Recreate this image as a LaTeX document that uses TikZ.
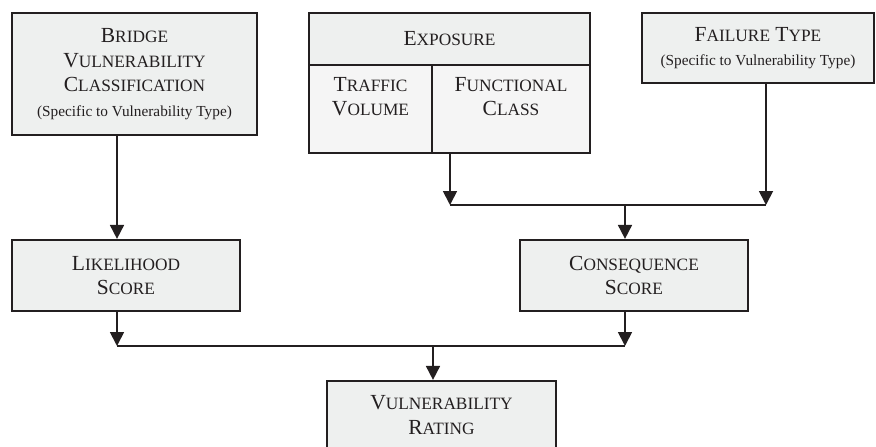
\documentclass[tikz,border=0pt]{standalone}
\usepackage{fontspec}
\setmainfont{Liberation Serif}
\usetikzlibrary{arrows.meta}

\definecolor{boxgray}{RGB}{238,240,239}
\definecolor{cellgray}{RGB}{245,245,245}
\definecolor{ink}{RGB}{35,31,32}

% small capitals by hand: first letter at full size, rest smaller
\newcommand{\capsm}[1]{{\fontsize{17.3}{24.5}\selectfont\MakeUppercase{#1}}}
\newcommand{\paren}[1]{{\fontsize{15.3}{21}\selectfont #1}}

\begin{document}
\begin{tikzpicture}[x=1pt, y=-1pt,
    every node/.style={font=\fontsize{21.5}{24.5}\selectfont, text=ink},
    box/.style={draw=ink, line width=2.2pt, fill=boxgray, align=center, inner sep=0pt},
    cell/.style={box, fill=cellgray},
    flow/.style={draw=ink, line width=1.8pt},
    arr/.style={flow, -{Triangle[length=14pt,width=14pt]}}]
  \useasboundingbox (0,0) rectangle (876,447);

  % top row
  \node[box, minimum width=245, minimum height=122] (bridge) at (134.5,74)
    {B\capsm{ridge}\\ V\capsm{ulnerability}\\ C\capsm{lassification}\\
     \paren{(Specific to Vulnerability Type)}};

  \node[box, minimum width=281, minimum height=52] (expo) at (449.5,39)
    {E\capsm{xposure}};
  \node[cell, minimum width=123, minimum height=88] (traffic) at (370.5,109) {};
  \node[cell, minimum width=158, minimum height=88] (func) at (511,109) {};
  \node[anchor=north, align=center, inner sep=0pt] (trafficlbl)
    at ([yshift=-13]traffic.north) {T\capsm{raffic}\\ V\capsm{olume}};
  \node[anchor=north, align=center, inner sep=0pt] (funclbl)
    at ([yshift=-13]func.north) {F\capsm{unctional}\\ C\capsm{lass}};

  \node[box, minimum width=232, minimum height=70] (fail) at (758,48)
    {F\capsm{ailure} T\capsm{ype}\\ \paren{(Specific to Vulnerability Type)}};

  % scores
  \node[box, minimum width=228, minimum height=71] (like) at (126,275.5)
    {L\capsm{ikelihood}\\ S\capsm{core}};
  \node[box, minimum width=228, minimum height=71] (cons) at (634,275.5)
    {C\capsm{onsequence}\\ S\capsm{core}};

  % result
  \node[box, minimum width=229, minimum height=68] (rating) at (441.5,415)
    {V\capsm{ulnerability}\\ R\capsm{ating}};

  \coordinate (topjoin) at (625,205);
  \coordinate (lowjoin) at (433,346);

  % connectors
  \draw[arr] ([xshift=-17.5]bridge.south) -- ([xshift=-17.5]bridge.south |- like.north);

  \draw[arr] ([xshift=-61]func.south) -- ([xshift=-61]func.south |- topjoin);
  \draw[arr] ([xshift=8]fail.south) -- ([xshift=8]fail.south |- topjoin);
  \draw[flow] ([xshift=-61]func.south |- topjoin) -- ([xshift=8]fail.south |- topjoin);
  \draw[arr] (topjoin) -- (topjoin |- cons.north);

  \draw[arr] ([xshift=-9]like.south) -- ([xshift=-9]like.south |- lowjoin);
  \draw[arr] ([xshift=-9]cons.south) -- ([xshift=-9]cons.south |- lowjoin);
  \draw[flow] ([xshift=-9]like.south |- lowjoin) -- ([xshift=-9]cons.south |- lowjoin);
  \draw[arr] (lowjoin) -- (lowjoin |- rating.north);
\end{tikzpicture}
\end{document}
